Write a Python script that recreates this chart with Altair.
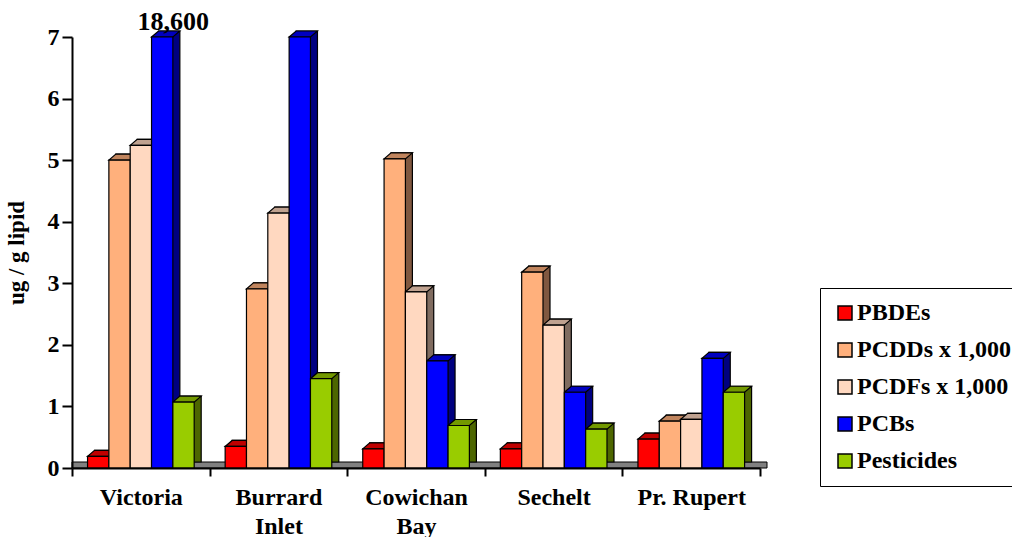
import json

import altair as alt
import pandas as pd

# ---- data -------------------------------------------------------------
categories = ["Victoria", "Burrard Inlet", "Cowichan Bay", "Sechelt", "Pr. Rupert"]
category_lines = [["Victoria"], ["Burrard", "Inlet"], ["Cowichan", "Bay"], ["Sechelt"], ["Pr. Rupert"]]
series = ["PBDEs", "PCDDs x 1,000", "PCDFs x 1,000", "PCBs", "Pesticides"]

pbdes = [0.19, 0.35, 0.31, 0.31, 0.47]
pcdds = [5.00, 2.91, 5.02, 3.18, 0.76]
pcdfs = [5.24, 4.14, 2.86, 2.32, 0.79]
pcbs = [18.6, 7.0, 1.74, 1.23, 1.78]
pesticides = [1.07, 1.45, 0.69, 0.63, 1.23]

y_ticks = [0, 1, 2, 3, 4, 5, 6, 7]
y_max = 7

# ---- style ------------------------------------------------------------
front_colors = ["#FF0000", "#FFB07C", "#FFD8C0", "#0000FF", "#99CC00"]
top_colors = ["#C00000", "#C0845D", "#C0A290", "#0000C0", "#739900"]
side_colors = ["#800000", "#805840", "#806C60", "#000080", "#4D6600"]

SERIF = "Liberation Serif"
W, H = 688, 431
STEP_PX = W / len(categories)
BAR_W = 0.155          # bar width as a fraction of one category slot
PAD = 0.113            # gap before the first bar of a group
DX, DY = 7, -6         # 3-D depth offset in pixels
BAR_PX = BAR_W * STEP_PX

# ---- table for the marks ---------------------------------------------
values = [pbdes, pcdds, pcdfs, pcbs, pesticides]
rows = []
for ci, cat in enumerate(categories):
    for si, name in enumerate(series):
        x0 = ci + PAD + si * BAR_W
        rows.append({
            "category": cat,
            "series": name,
            "value": values[si][ci],
            "x0": x0,
            "x1": x0 + BAR_W,
            "xm": x0 + BAR_W / 2,
            "front": front_colors[si],
            "top": top_colors[si],
            "side": side_colors[si],
        })
df = pd.DataFrame(rows)

x_scale = alt.Scale(domain=[0, len(categories)], nice=False, zero=False)
y_scale = alt.Scale(domain=[0, y_max], nice=False, clamp=True)

label_expr = (
    f"datum.value < {len(categories)} ? "
    f"{json.dumps(category_lines)}[round(datum.value)] : ''"
)

x_axis = alt.Axis(
    values=list(range(len(categories) + 1)),
    labelExpr=label_expr,
    labelOffset=STEP_PX / 2,
    labelFlush=False,
    labelOverlap=False,
    labelAlign="center",
    labelBaseline="top",
    labelFont=SERIF,
    labelFontSize=24,
    labelFontWeight="bold",
    labelColor="black",
    labelLineHeight=29,
    labelPadding=9,
    tickSize=8,
    tickWidth=2,
    tickColor="black",
    domainWidth=2,
    domainColor="black",
    grid=False,
    title=None,
    zindex=1,
)

y_axis = alt.Axis(
    values=y_ticks,
    format="d",
    labelFont=SERIF,
    labelFontSize=24,
    labelFontWeight="bold",
    labelColor="black",
    labelPadding=3,
    tickSize=10,
    tickWidth=2,
    tickColor="black",
    domainWidth=2,
    domainColor="black",
    grid=False,
    title="ug / g lipid",
    titleFont=SERIF,
    titleFontSize=23,
    titleFontWeight="bold",
    titleColor="black",
    titlePadding=19,
    zindex=1,
)

base = alt.Chart(df)

# grey floor strip under the bars
floor = alt.Chart(pd.DataFrame({"f": [0]})).mark_rect(
    color="#808080", stroke="black", strokeWidth=1, x2Offset=DX, y2Offset=DY
).encode(
    x=alt.datum(0, scale=x_scale, axis=x_axis),
    x2=alt.datum(len(categories)),
    y=alt.datum(0, scale=y_scale, axis=y_axis),
    y2=alt.datum(0),
)

# back copy of each bar: shows as the right-hand side face
backs = base.mark_rect(
    stroke="black", strokeWidth=1.2,
    xOffset=DX, x2Offset=DX, yOffset=DY, y2Offset=DY,
).encode(
    x=alt.X("x0:Q", scale=x_scale, axis=x_axis),
    x2="x1:Q",
    y=alt.Y("value:Q", scale=y_scale, axis=y_axis),
    y2=alt.datum(0),
    color=alt.Color("side:N", scale=None),
)

# slanted top face of each bar
hw = BAR_PX / 2
top_path = (
    f"M {-hw:.2f} 0 L {hw:.2f} 0 L {hw + DX:.2f} {DY} L {-hw + DX:.2f} {DY} Z"
)
tops = base.mark_point(
    shape=top_path, size=4, filled=True, opacity=1,
    stroke="black", strokeWidth=1.2,
).encode(
    x=alt.X("xm:Q", scale=x_scale),
    y=alt.Y("value:Q", scale=y_scale),
    fill=alt.Fill("top:N", scale=None),
)

# front faces, carrying the legend
fronts = base.mark_rect(stroke="black", strokeWidth=1.2).encode(
    x=alt.X("x0:Q", scale=x_scale),
    x2="x1:Q",
    y=alt.Y("value:Q", scale=y_scale),
    y2=alt.datum(0),
    color=alt.Color(
        "series:N",
        scale=alt.Scale(domain=series, range=front_colors),
        legend=alt.Legend(
            orient="none",
            legendX=748,
            legendY=251,
            title=None,
            direction="vertical",
            symbolType="square",
            symbolSize=196,
            symbolStrokeColor="black",
            symbolStrokeWidth=1.5,
            labelFont=SERIF,
            labelFontSize=24,
            labelFontWeight="bold",
            labelColor="black",
            labelLimit=400,
            labelOffset=0,
            rowPadding=13,
            padding=13,
            strokeColor="black",
            fillColor="white",
        ),
    ),
)

# value label for a bar that runs past the top of the axis
over_label = base.transform_filter(
    f"datum.value > {y_max}"
).transform_calculate(
    label="format(datum.value * 1000, ',.0f')"
).mark_text(
    font=SERIF, fontSize=26, fontWeight="bold", color="black",
    baseline="alphabetic", dx=11, dy=-7,
).encode(
    x=alt.X("xm:Q", scale=x_scale),
    y=alt.Y("value:Q", scale=y_scale),
    text="label:N",
)

chart = alt.layer(floor, backs, tops, fronts, over_label).properties(
    width=W,
    height=H,
    autosize=alt.AutoSizeParams(type="none"),
    padding={"left": 72, "top": 37, "right": 252, "bottom": 69},
    background="white",
).configure_view(stroke=None)

chart.save("out.html", embed_options={"renderer": "svg", "actions": False})
